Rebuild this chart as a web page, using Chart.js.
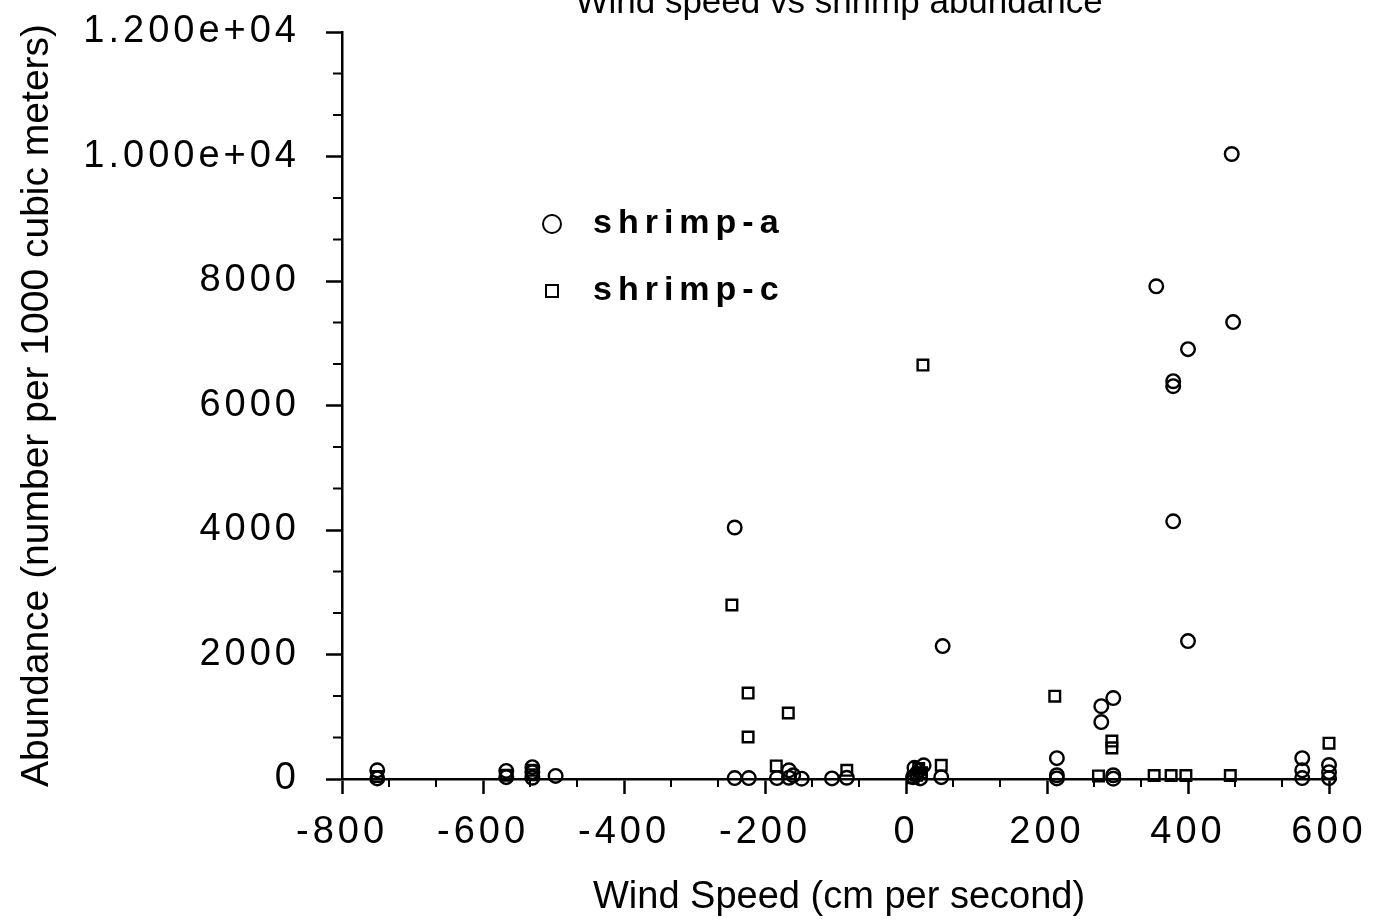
<!DOCTYPE html>
<html>
<head>
<meta charset="utf-8">
<title>Wind speed vs shrimp abundance</title>
<script src="https://cdn.jsdelivr.net/npm/chart.js@4.4.1/dist/chart.umd.min.js"></script>
<style>
  html, body { margin: 0; padding: 0; background: #fff; overflow: hidden; }
  #wrap { position: absolute; left: 0; top: -22px; width: 1377px; height: 944px; }
</style>
</head>
<body>
<div id="wrap"><canvas id="windChart" width="1377" height="944"></canvas></div>
<script>
// shrimp-a: wind speed (cm/s) and abundance (per 1000 m3)
const windA = [-750, -750, -567, -567, -530, -530, -530, -497, -243, -243, -223, -183, -166, -166, -160, -148, -105, -84,
               10, 12, 15, 18, 20, 25, 52, 50, 214, 214, 214, 277, 277, 294, 294, 294, 355, 379, 379, 379, 400, 400,
               462, 464, 562, 562, 562, 600, 600, 600];
const abundA = [140, 10, 130, 30, 190, 110, 20, 50, 4040, 15, 15, 15, 140, 20, 60, 5, 10, 20,
                30, 180, 80, 130, 10, 220, 2135, 30, 335, 60, 10, 1170, 915, 1300, 60, 5, 7915, 6390, 6310, 4140, 6905, 2215,
                10040, 7340, 335, 140, 15, 225, 110, 15];

// shrimp-c
const windC = [-750, -567, -530, -530, -247, -224, -224, -184, -167, -84, 10, 15, 18, 22, 24, 50,
               211, 273, 292, 292, 352, 376, 397, 460, 600];
const abundC = [40, 60, 70, 140, 2795, 1380, 675, 210, 1060, 140, 20, 60, 170, 100, 6650, 220,
                1330, 50, 610, 500, 55, 55, 55, 55, 575];

const xTicks = [-800, -600, -400, -200, 0, 200, 400, 600];
const xTickLabels = ['-800', '-600', '-400', '-200', '0', '200', '400', '600'];
const yTicks = [0, 2000, 4000, 6000, 8000, 10000, 12000];
const yTickLabels = ['0', '2000', '4000', '6000', '8000', '1.000e+04', '1.200e+04'];

const FONT = "'Liberation Sans', Arial, Helvetica, sans-serif";

// minor ticks (3 steps per interval), spaced tick labels and the legend inside the plot
const extras = {
  id: 'extras',
  beforeDraw(chart) { chart.ctx.letterSpacing = '0px'; },
  afterDatasetsDraw(chart) { chart.ctx.letterSpacing = '4px'; },
  afterDraw(chart) {
    const ctx = chart.ctx;
    const {left, top, bottom} = chart.chartArea;
    const xs = chart.scales.x, ys = chart.scales.y;
    ctx.save();
    ctx.strokeStyle = '#000';
    ctx.lineWidth = 2;
    ctx.beginPath();
    for (let i = 0; i < xTicks.length - 1; i++) {
      for (let k = 1; k < 3; k++) {
        const px = xs.getPixelForValue(xTicks[i] + (xTicks[i + 1] - xTicks[i]) * k / 3);
        ctx.moveTo(px, bottom);
        ctx.lineTo(px, bottom + 8);
      }
    }
    for (let i = 0; i < yTicks.length - 1; i++) {
      for (let k = 1; k < 3; k++) {
        const py = ys.getPixelForValue(yTicks[i] + (yTicks[i + 1] - yTicks[i]) * k / 3);
        ctx.moveTo(left - 9, py);
        ctx.lineTo(left, py);
      }
    }
    ctx.stroke();

    ctx.letterSpacing = '6px';
    ctx.font = 'bold 34px ' + FONT;
    ctx.textBaseline = 'middle';
    ctx.textAlign = 'left';
    ctx.fillStyle = '#000';
    ctx.lineWidth = 2;
    chart.data.datasets.forEach((ds, i) => {
      const mx = left + 210, my = top + 192 + i * 67;
      ctx.beginPath();
      if (ds.pointStyle === 'rect') ctx.rect(mx - 6, my - 6, 12, 12);
      else ctx.arc(mx, my, 9, 0, Math.PI * 2);
      ctx.stroke();
      ctx.fillText(ds.label, left + 251, my);
    });
    ctx.restore();
    ctx.letterSpacing = '0px';
  }
};

new Chart(document.getElementById('windChart'), {
  type: 'scatter',
  data: {
    datasets: [
      {
        label: 'shrimp-a',
        data: windA.map((x, i) => ({x: x, y: abundA[i]})),
        pointStyle: 'circle',
        pointRadius: 6.8,
        pointBorderWidth: 2.4,
        pointBorderColor: '#000',
        pointBackgroundColor: 'rgba(0,0,0,0)',
        clip: false
      },
      {
        label: 'shrimp-c',
        data: windC.map((x, i) => ({x: x, y: abundC[i]})),
        pointStyle: 'rect',
        pointRadius: 7.5,
        pointBorderWidth: 2.4,
        pointBorderColor: '#000',
        pointBackgroundColor: 'rgba(0,0,0,0)',
        clip: false
      }
    ]
  },
  options: {
    responsive: false,
    animation: false,
    layout: { padding: { right: 39 } },
    plugins: {
      legend: { display: false },
      tooltip: { enabled: false },
      title: {
        display: true,
        text: 'Wind speed vs shrimp abundance',
        fullSize: false,
        color: '#000',
        font: { family: FONT, size: 35, weight: 'normal' },
        padding: { top: 4, bottom: 8 }
      }
    },
    scales: {
      x: {
        type: 'linear',
        min: -800,
        max: 610,
        afterBuildTicks: s => { s.ticks = xTicks.map(v => ({value: v})); },
        afterFit: s => { s.height = 143; },
        grid: { drawOnChartArea: false, tickLength: 15, tickColor: '#000', tickWidth: 2.5 },
        border: { color: '#000', width: 2.5 },
        ticks: {
          z: 1,
          color: '#000',
          font: { family: FONT, size: 38 },
          padding: 16,
          maxRotation: 0,
          autoSkip: false,
          callback: (v, i) => xTickLabels[i]
        },
        title: {
          display: true,
          text: 'Wind Speed (cm per second)',
          color: '#000',
          font: { family: FONT, size: 38 },
          padding: { top: 0, bottom: 2 }
        }
      },
      y: {
        min: 0,
        max: 12000,
        afterBuildTicks: s => { s.ticks = yTicks.map(v => ({value: v})); },
        afterFit: s => { s.width = 342; },
        grid: { drawOnChartArea: false, tickLength: 16, tickColor: '#000', tickWidth: 2.5 },
        border: { color: '#000', width: 2.5 },
        ticks: {
          z: 1,
          color: '#000',
          font: { family: FONT, size: 38 },
          padding: 26,
          autoSkip: false,
          callback: (v, i) => yTickLabels[i]
        },
        title: {
          display: true,
          text: 'Abundance (number per 1000 cubic meters)',
          color: '#000',
          font: { family: FONT, size: 39 },
          padding: { top: 14, bottom: 0 }
        }
      }
    }
  },
  plugins: [extras]
});
</script>
</body>
</html>
